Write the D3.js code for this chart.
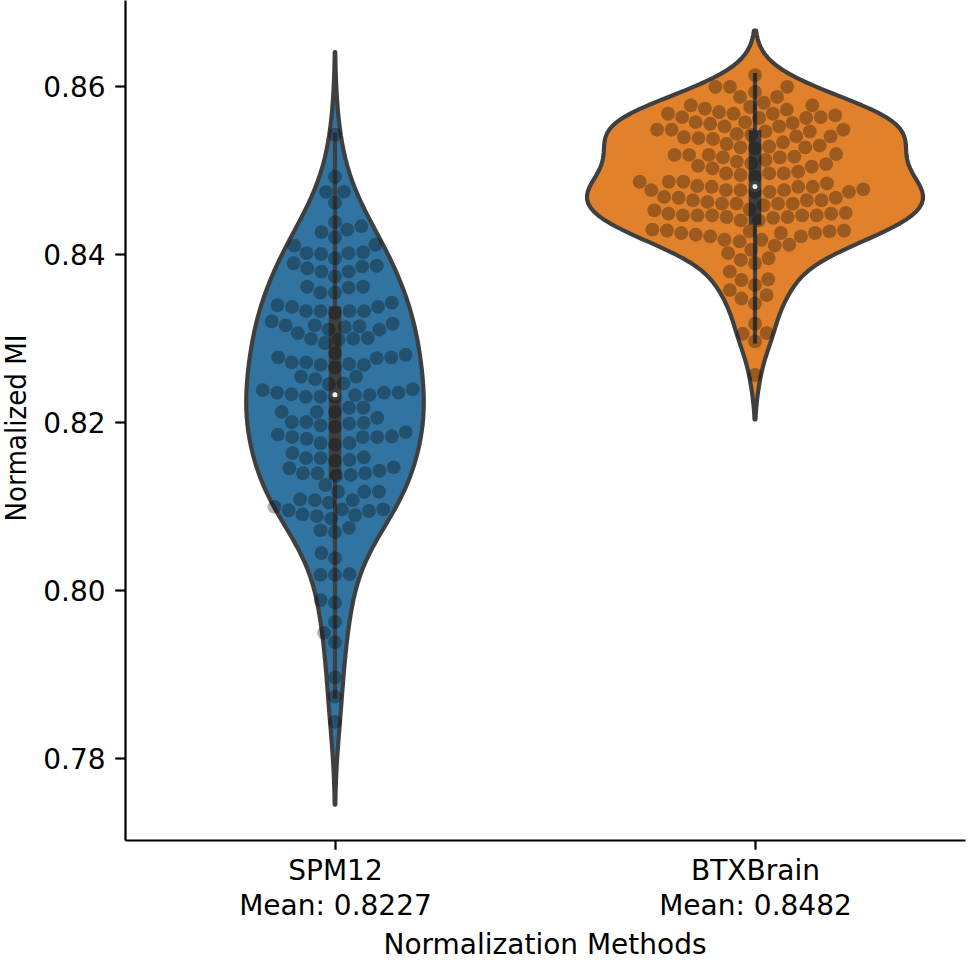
<!DOCTYPE html>
<html><head><meta charset="utf-8">
<script src="https://cdn.jsdelivr.net/npm/d3@7"></script>
<style>
body{margin:0;background:#fff}
svg{display:block}
text{font-family:"DejaVu Sans",sans-serif}
</style>
</head><body>
<svg id="chart" width="968" height="960"></svg>
<script>
// ---------------- data ----------------
const categories = ["SPM12", "BTXBrain"];
const meanLabels = ["Mean: 0.8227", "Mean: 0.8482"];
const yTicks = [0.78, 0.80, 0.82, 0.84, 0.86];
const yLabel = "Normalized MI";
const xLabel = "Normalization Methods";
const violinColors = ["#3274a1", "#e1812c"];

const spm12Values = [
  0.8542, 0.8492, 0.8474, 0.8474, 0.8461, 0.8438, 0.8426, 0.8429, 0.8433, 0.8420,
  0.8411, 0.8401, 0.8401, 0.8395, 0.8400, 0.8402, 0.8410,
  0.8389, 0.8385, 0.8379, 0.8373, 0.8379, 0.8383, 0.8386,
  0.8361, 0.8354, 0.8354, 0.8360, 0.8361,
  0.8342, 0.8337, 0.8332, 0.8332, 0.8332, 0.8330, 0.8332, 0.8337, 0.8339,
  0.8320, 0.8310, 0.8306, 0.8314, 0.8315, 0.8313, 0.8315, 0.8310, 0.8317,
  0.8299, 0.8298, 0.8294, 0.8300, 0.8299,
  0.8271, 0.8269, 0.8280, 0.8277, 0.8276, 0.8277, 0.8268, 0.8268, 0.8271, 0.8282,
  0.8265, 0.8251, 0.8254, 0.8254, 0.8246,
  0.8239, 0.8235, 0.8233, 0.8232, 0.8230, 0.8232, 0.8230, 0.8230, 0.8235, 0.8235, 0.8238, 0.8245,
  0.8217, 0.8212, 0.8212, 0.8212, 0.8217,
  0.8200, 0.8198, 0.8196, 0.8194, 0.8199, 0.8200, 0.8205,
  0.8185, 0.8182, 0.8180, 0.8173, 0.8175, 0.8175, 0.8182, 0.8182, 0.8183, 0.8188,
  0.8158, 0.8157, 0.8155, 0.8154, 0.8157, 0.8163,
  0.8146, 0.8139, 0.8137, 0.8145, 0.8139, 0.8136, 0.8139, 0.8142,
  0.8125, 0.8117, 0.8117, 0.8108, 0.8107, 0.8104, 0.8117, 0.8107,
  0.8096, 0.8096, 0.8090, 0.8089, 0.8088, 0.8094, 0.8085, 0.8095, 0.8099,
  0.8074, 0.8069, 0.8071,
  0.8044, 0.8038,
  0.8018, 0.8018, 0.8019,
  0.7988, 0.7985,
  0.7962, 0.7949, 0.7938, 0.7896, 0.7873, 0.7843
];

const btxValues = [
  0.8613, 0.8599, 0.8599,
  0.8580, 0.8577, 0.8577, 0.8573, 0.8565,
  0.8567, 0.8563, 0.8563, 0.8562, 0.8556,
  0.8557, 0.8548, 0.8546, 0.8552, 0.8546, 0.8542, 0.8540,
  0.8538, 0.8531, 0.8527, 0.8528,
  0.8518, 0.8516, 0.8515, 0.8512, 0.8508, 0.8504,
  0.8496, 0.8496, 0.8492,
  0.8484, 0.8480, 0.8476, 0.8480, 0.8476, 0.8474, 0.8476,
  0.8468, 0.8464, 0.8460, 0.8467, 0.8462,
  0.8460, 0.8448, 0.8446, 0.8446, 0.8440, 0.8446, 0.8444, 0.8448,
  0.8428, 0.8427, 0.8425, 0.8417, 0.8425, 0.8423, 0.8421,
  0.8599,
  0.8593, 0.8587,
  0.8575, 0.8569, 0.8572, 0.8567, 0.8567,
  0.8557, 0.8562, 0.8552, 0.8555, 0.8548, 0.8548,
  0.8540, 0.8543, 0.8537, 0.8539,
  0.8527, 0.8526, 0.8529, 0.8518, 0.8515, 0.8518, 0.8519,
  0.8507, 0.8510, 0.8505,
  0.8498, 0.8494, 0.8496,
  0.8486, 0.8480, 0.8486, 0.8477, 0.8481, 0.8486,
  0.8476, 0.8474, 0.8474, 0.8467, 0.8460,
  0.8464, 0.8458, 0.8453, 0.8460,
  0.8452, 0.8446, 0.8446, 0.8449,
  0.8444, 0.8440,
  0.8427, 0.8429, 0.8421, 0.8425, 0.8428,
  0.8415, 0.8417,
  0.8401, 0.8411, 0.8405, 0.8410,
  0.8393, 0.8389, 0.8395,
  0.8379, 0.8369, 0.8370, 0.8363,
  0.8347, 0.8357, 0.8351,
  0.8341, 0.8317, 0.8305, 0.8306, 0.8296, 0.8256,
  0.8587, 0.8533, 0.8502, 0.8464, 0.8443
];

const groups = [spm12Values, btxValues];

// ---------------- layout ----------------
const W = 968, H = 960;
const plot = {left: 125, right: 965, top: 0, bottom: 840};
const PT = 200 / 72;                // px per point
const gray = "#3f3f3f";
const lw = 1.5 * PT;                // violin line width
const dotD = 5 * PT;                // swarm marker diameter

const svg = d3.select("#chart");

const x = d3.scaleLinear().domain([-0.5, 1.5]).range([plot.left, plot.right]);
const y = d3.scaleLinear().domain([0.77024, 0.87024]).range([plot.bottom, plot.top]);

// ---------------- KDE (gaussian, Scott bandwidth, cut=2) ----------------
function kde(values) {
  const n = values.length;
  const sd = d3.deviation(values);
  const bw = sd * Math.pow(n, -0.2);
  const lo = d3.min(values) - 2 * bw, hi = d3.max(values) + 2 * bw;
  const grid = d3.range(100).map(i => lo + (hi - lo) * i / 99);
  const norm = n * bw * Math.sqrt(2 * Math.PI);
  return grid.map(g => [g, d3.sum(values, v => Math.exp(-0.5 * ((g - v) / bw) ** 2)) / norm]);
}
const densities = groups.map(kde);
const maxDens = d3.max(densities, d => d3.max(d, p => p[1]));
const wScale = d3.scaleLinear().domain([0, maxDens]).range([0, x(0.4) - x(0)]);

// ---------------- violins ----------------
const gV = svg.append("g");
densities.forEach((dens, i) => {
  const cx = x(i);
  const area = d3.area()
    .y(d => y(d[0]))
    .x0(d => cx - wScale(d[1]))
    .x1(d => cx + wScale(d[1]));
  gV.append("path")
    .attr("d", area(dens) )
    .attr("fill", violinColors[i])
    .attr("stroke", gray)
    .attr("stroke-width", lw)
    .attr("stroke-linejoin", "round");
});

// inner box
const stats = groups.map(v => {
  const s = v.slice().sort(d3.ascending);
  const q25 = d3.quantile(s, 0.25), q50 = d3.quantile(s, 0.5), q75 = d3.quantile(s, 0.75);
  const wl = 1.5 * (q75 - q25);
  const h1 = d3.min(s.filter(d => d >= q25 - wl));
  const h2 = d3.max(s.filter(d => d <= q75 + wl));
  return {q25, q50, q75, h1, h2};
});
stats.forEach((s, i) => {
  const cx = x(i);
  gV.append("line").attr("x1", cx).attr("x2", cx).attr("y1", y(s.h1)).attr("y2", y(s.h2))
    .attr("stroke", gray).attr("stroke-width", lw).attr("stroke-linecap", "square");
  gV.append("line").attr("x1", cx).attr("x2", cx).attr("y1", y(s.q25)).attr("y2", y(s.q75))
    .attr("stroke", gray).attr("stroke-width", lw * 3).attr("stroke-linecap", "square");
});

// ---------------- swarm ----------------
function beeswarm(values, cx) {
  const pts = values.map(v => ({v, y: y(v)})).sort((a, b) => a.v - b.v);
  const placed = [];
  const d = dotD, d2 = d * d;
  pts.forEach(p => {
    const neighbors = [];
    for (let j = placed.length - 1; j >= 0; j--) {
      if (Math.abs(placed[j].y - p.y) < d) neighbors.push(placed[j]); else break;
    }
    neighbors.reverse();
    const cands = [{x: cx, k: 0}];
    let leftFirst = true, k = 1;
    neighbors.forEach(q => {
      const dy = p.y - q.y;
      const dx = Math.sqrt(Math.max(d2 - dy * dy, 0)) * 1.05;
      const cl = {x: q.x - dx, k: k++}, cr = {x: q.x + dx, k: k++};
      if (leftFirst) cands.push(cl, cr); else cands.push(cr, cl);
      leftFirst = !leftFirst;
    });
    cands.sort((a, b) => (Math.abs(a.x - cx) - Math.abs(b.x - cx)) || (a.k - b.k));
    let chosen = cands[cands.length - 1].x;
    for (const c of cands) {
      if (neighbors.every(q => (q.x - c.x) ** 2 + (q.y - p.y) ** 2 >= d2 - 1e-6)) { chosen = c.x; break; }
    }
    p.x = chosen;
    placed.push(p);
  });
  return placed;
}
const gS = svg.append("g");
groups.forEach((vals, i) => {
  const sw = beeswarm(vals, x(i));
  gS.selectAll(null).data(sw).enter().append("circle")
    .attr("cx", d => d.x).attr("cy", d => d.y).attr("r", dotD / 2)
    .attr("fill", "#000").attr("fill-opacity", 0.3);
});

// median dots
stats.forEach((s, i) => {
  svg.append("circle").attr("cx", x(i)).attr("cy", y(s.q50)).attr("r", lw)
    .attr("fill", "#fff").attr("stroke", gray).attr("stroke-width", lw * 0.8);
});

// ---------------- axes ----------------
const tickLen = 3.5 * PT, tickPad = 3.5 * PT, axW = 0.8 * PT;

const gy = svg.append("g").attr("transform", `translate(${plot.left},0)`)
  .call(d3.axisLeft(y).tickValues(yTicks).tickFormat(d3.format(".2f"))
        .tickSize(tickLen).tickPadding(tickPad).tickSizeOuter(0));
gy.select(".domain").attr("stroke-width", axW).attr("stroke", "#000");
gy.selectAll(".tick line").attr("stroke-width", axW).attr("stroke", "#000");
gy.selectAll(".tick text").attr("font-size", 28).attr("font-family", "DejaVu Sans")
  .attr("fill", "#000").attr("dy", "0.36em");

const gx = svg.append("g").attr("transform", `translate(0,${plot.bottom})`)
  .call(d3.axisBottom(x).tickValues([0, 1]).tickFormat(() => "")
        .tickSize(tickLen).tickPadding(tickPad).tickSizeOuter(0));
gx.select(".domain").attr("stroke-width", axW).attr("stroke", "#000");
gx.selectAll(".tick line").attr("stroke-width", axW).attr("stroke", "#000");
gx.selectAll(".tick text").remove();
gx.selectAll(".tick").each(function(d) {
  const t = d3.select(this).append("text")
    .attr("text-anchor", "middle").attr("font-size", 28).attr("fill", "#000")
    .attr("font-family", "DejaVu Sans");
  t.append("tspan").attr("x", 0).attr("y", 40).text(categories[d]);
  t.append("tspan").attr("x", 0).attr("y", 75).text(meanLabels[d]);
});

svg.append("text")
  .attr("x", (plot.left + plot.right) / 2).attr("y", 954)
  .attr("text-anchor", "middle").attr("font-size", 28).attr("fill", "#000")
  .text(xLabel);

svg.append("text")
  .attr("transform", `translate(26,${(plot.top + plot.bottom) / 2 + 8}) rotate(-90)`)
  .attr("text-anchor", "middle").attr("font-size", 28).attr("fill", "#000")
  .attr("textLength", 187).attr("lengthAdjust", "spacingAndGlyphs")
  .text(yLabel);
</script>
</body></html>
